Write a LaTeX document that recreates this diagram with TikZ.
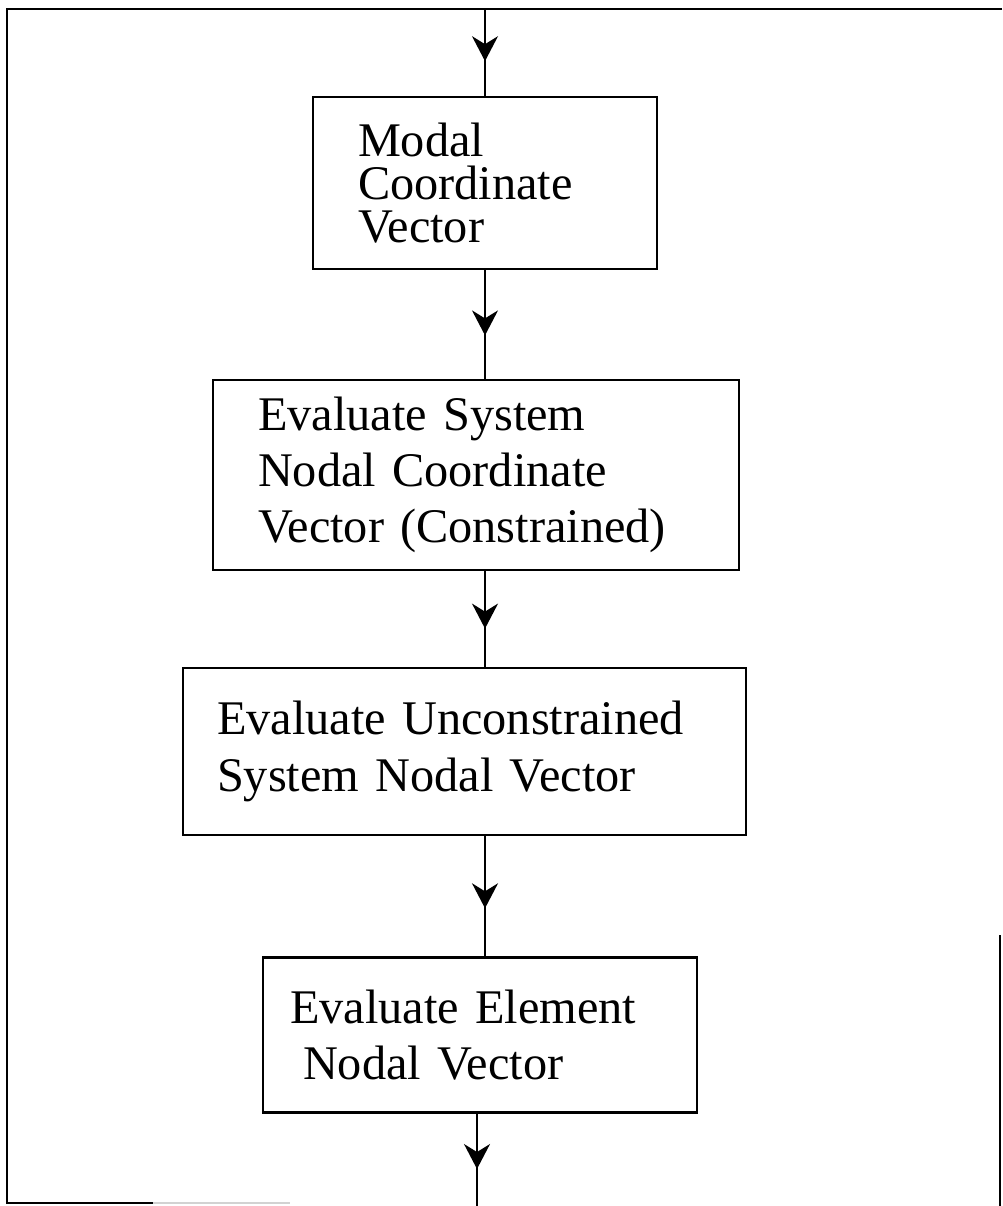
\documentclass[tikz,border=0pt]{standalone}
\usepackage{fontspec}
\setmainfont{Liberation Serif}
\usetikzlibrary{positioning}
\usetikzlibrary{arrows.meta}
\usetikzlibrary{decorations.markings}

\begin{document}
\begin{tikzpicture}[x=0.02cm, y=-0.02cm,
    B/.style={draw, line width=1.2pt, align=left, inner ysep=0pt,
        font=\fontsize{27.5}{32}\selectfont},
    F/.style={line width=1pt, postaction={decorate},
        decoration={markings, mark=at position 0.6 with
            {\arrow{Stealth[length=0.5cm, width=0.52cm, inset=0.16cm]}}}}]
    \useasboundingbox (0,0) rectangle (1002,1206);
    % frame
    \draw[line width=1.2pt] (1002,9) -- (7,9) -- (7,1203) -- (153,1203);
    \draw[line width=1pt, gray!35] (153,1203) -- (290,1203);
    \draw[line width=1.2pt] (1000,935) -- (1000,1206);
    % boxes
    \node[B, text width=5.08cm, inner xsep=0.9cm, minimum height=3.44cm,
        font=\fontsize{27.5}{24.5}\selectfont] (b1) at (485,183)
        {Modal\\Coordinate\\Vector};
    \node[B, text width=8.72cm, inner xsep=0.9cm, minimum height=3.8cm] (b2) at (476,475)
        {Evaluate System\\Nodal Coordinate\\Vector (Constrained)};
    \node[B, text width=9.9cm, inner xsep=0.68cm, minimum height=3.34cm] (b3) at (464.5,751.5)
        {Evaluate Unconstrained\\System Nodal Vector};
    \node[B, text width=7.6cm, inner xsep=0.54cm, minimum height=3.1cm] (b4) at (480,1035)
        {Evaluate Element\\\hspace*{0.26cm}Nodal Vector};
    \coordinate (in) at (485,9);
    \coordinate (out) at (477,1206);
    % arrows
    \draw[F] (in) -- (in |- b1.north);
    \draw[F] (b1.south) -- (b1.south |- b2.north);
    \draw[F] (b1.south |- b2.south) -- (b1.south |- b3.north);
    \draw[F] (b1.south |- b3.south) -- (b1.south |- b4.north);
    \draw[F] (out |- b4.south) -- (out);
\end{tikzpicture}
\end{document}
